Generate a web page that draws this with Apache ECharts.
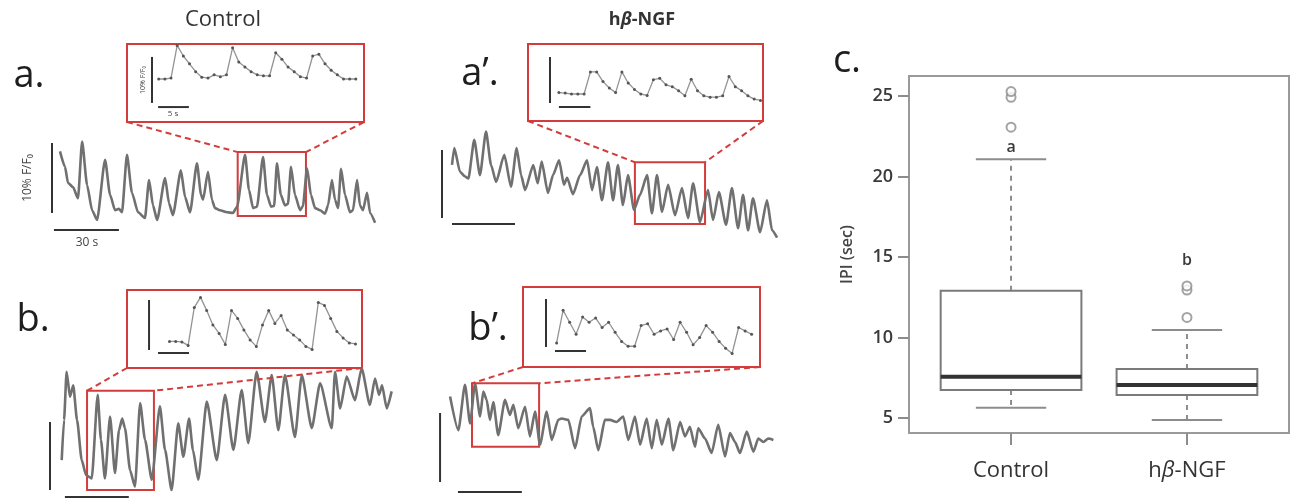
<!DOCTYPE html>
<html><head><meta charset="utf-8">
<script src="https://cdn.jsdelivr.net/npm/echarts@6/dist/echarts.min.js"></script>
<style>html,body{margin:0;padding:0;background:#fff}#c{width:1296px;height:499px}</style>
</head><body><div id="c"></div><script>
// ================= DATA =================
// Box plot (panel c): IPI in seconds
const boxCategories = ['Control', 'hβ-NGF'];
// [lower whisker, Q1, median, Q3, upper whisker]
const boxControl = [5.64, 6.74, 7.57, 12.9, 21.07];
const boxNGF = [4.88, 6.43, 7.05, 8.04, 10.47];
const outliersControl = [23.06, 24.92, 25.27];
const outliersNGF = [11.25, 12.95, 13.2];
const sigLetters = ['a', 'b'];
const sigLetterY = [21.8, 14.8];
const yTicks = [5, 10, 15, 20, 25];

// Main calcium traces: [time (s), ΔF/F0 (%)]
const traceA = [[0,8.8],[2.3,6.6],[3.7,4.3],[6.0,3.7],[8.3,2.1],[10.2,10.2],[12.5,4.0],[14.8,0.4],[17.1,-1.0],[20.8,7.6],[23.1,2.6],[25.4,0.4],[27.2,0.6],[28.6,0.1],[30.9,8.3],[33.2,2.9],[36.0,0.1],[39.2,-0.7],[41.1,4.7],[42.9,1.1],[44.8,-1.0],[48.5,5.0],[50.3,1.4],[52.1,-0.3],[55.8,6.1],[57.7,2.3],[60.0,0.1],[63.2,7.1],[65.1,2.6],[66.0,1.9],[68.3,5.9],[70.1,1.9],[71.5,0.7],[73.8,0.4],[77.1,0.1],[79.8,0],[81.7,0.9],[85.4,8.3],[87.2,3.3],[89.1,0.7],[90.9,0.9],[93.7,8.0],[95.5,2.6],[97.4,0.9],[98.8,1.0],[100.1,7.1],[101.9,2.6],[103.8,1.1],[105.2,1.3],[106.6,6.6],[108.4,2.6],[110.8,0.4],[112.1,1.0],[114.0,6.4],[115.8,2.6],[117.7,0.7],[120.0,0.4],[122.3,-0.1],[123.7,1.1],[125.5,4.7],[126.9,1.9],[128.3,0.7],[129.7,6.3],[131.5,2.6],[133.8,0.1],[135.2,0.4],[137.1,4.7],[138.4,1.1],[139.8,0.4],[141.7,2.9],[143.1,0],[145.4,-1.4]];
const traceA2 = [[0,7.8],[1.1,10.3],[3.8,6.8],[6.2,6.1],[7.8,5.8],[10.6,11.5],[13.3,6.3],[16.2,12.7],[18.6,7.8],[21.0,5.3],[24.9,9.3],[28.1,4.6],[30.8,10.3],[32.9,6.3],[34.8,4.1],[38.7,7.8],[40.8,5.1],[42.7,8.3],[45.7,3.7],[48.1,6.3],[51.0,8.5],[53.3,4.9],[54.8,5.9],[57.6,3.5],[61.0,6.3],[64.3,8.5],[66.7,4.1],[69.0,7.5],[71.4,2.6],[74.3,8.2],[76.7,2.6],[79.0,7.8],[81.4,1.9],[83.8,6.3],[86.7,1.2],[89.5,3.4],[92.9,6.3],[95.2,0.7],[97.6,6.3],[100.0,0.9],[102.9,4.9],[106.2,0.4],[109.5,4.4],[112.4,0],[114.8,5.1],[118.1,-0.6],[121.9,4.1],[124.3,-0.3],[127.1,3.8],[130.5,-1.0],[133.3,4.4],[136.2,-1.5],[138.6,3.4],[141.0,-1.8],[143.3,2.9],[146.7,-2.1],[150.0,2.6],[152.4,-1.8],[154.8,-2.9]];
const traceB = [[0.8,4.4],[1.9,10.3],[3.1,17.4],[4.7,13.7],[6.2,15.4],[8.0,10.3],[10.2,4.4],[12.2,2.2],[14.9,1.7],[17.7,14.0],[19.2,7.4],[21.1,1.7],[23.5,10.8],[25.8,2.5],[27.7,8.8],[29.2,10.5],[30.5,9.1],[32.9,2.9],[35.2,0.5],[37.6,12.8],[39.9,7.4],[43.1,1.5],[46.9,12.3],[49.3,5.9],[52.4,0],[55.5,9.8],[57.9,4.9],[60.6,10.5],[62.4,5.9],[64.9,1.5],[68.9,13.0],[73.6,4.4],[77.5,14.0],[81.4,5.9],[85.3,14.7],[88.4,6.9],[92.3,17.4],[96.2,10.0],[99.4,16.9],[102.5,8.8],[105.6,16.9],[110.3,7.8],[113.5,16.9],[118.2,9.1],[122.1,15.7],[127.6,9.1],[129.1,17.4],[131.5,12.0],[134.6,16.7],[138.5,13.2],[141.6,17.9],[145.5,12.5],[147.9,16.4],[149.8,14.0],[151.2,15.4],[153.4,12.0],[155.7,14.5]];
const traceB2 = [[0.5,12.4],[4.4,7.5],[7.5,14.1],[9.9,8.5],[12.2,14.3],[14.6,9.5],[16.1,13.1],[17.7,11.9],[19.2,9.0],[20.8,11.6],[23.1,6.8],[26.3,11.9],[28.6,9.7],[30.2,11.2],[32.5,7.8],[35.7,10.9],[38.0,6.6],[40.4,10.2],[42.7,5.4],[45.9,10.2],[48.2,6.1],[51.3,9.0],[52.9,9.2],[56.0,9.0],[59.2,4.9],[62.3,9.5],[66.2,10.7],[67.7,8.0],[70.1,4.6],[73.2,9.0],[75.6,9.0],[78.7,8.7],[81.8,9.5],[84.2,6.1],[87.3,9.5],[89.7,5.4],[92.8,9.2],[95.2,4.9],[97.5,9.0],[99.9,5.4],[103.0,9.2],[105.3,4.6],[108.5,8.7],[110.8,6.6],[113.1,8.0],[115.5,5.1],[117.0,7.8],[120.2,6.3],[123.3,4.2],[126.4,8.3],[129.6,3.7],[131.9,7.1],[134.3,5.8],[136.6,4.2],[139.8,7.3],[142.9,4.4],[145.2,6.3],[147.6,5.8],[149.9,6.3],[152.3,6.1]];

// Inset (zoomed) traces: one sample per frame, ΔF/F0 (%)
const insetA = [0,0,0.2,7.3,5.0,3.3,1.6,0.4,0.2,0.9,0.5,0.9,6.8,3.7,2.6,1.6,0.9,0.7,0.7,5.7,4.3,2.6,1.6,0.5,0.2,5.0,5.4,3.3,1.9,0.9,0,0,0];
const insetA2 = [0.3,0.2,0,0,0,4.8,4.8,2.7,1.3,0.3,4.8,2.4,1.0,0,-0.3,3.1,3.4,2.0,1.6,0.7,-0.4,3.2,0.7,-0.4,-0.7,-0.7,-0.4,3.8,1.6,0.7,-0.4,-1.1,-1.4];
const insetB = [0,0,-0.1,-0.8,6.8,8.8,6.2,3.3,1.6,-0.6,6.2,4.6,2.3,0.3,-1.0,3.3,6.2,3.6,5.2,2.3,1.3,0.3,-1.0,-1.6,7.8,7.2,4.6,2.0,0.7,-0.3,-0.5];
const insetB2 = [-0.6,6.2,3.7,1.2,4.8,3.7,4.6,2.6,3.7,1.6,-0.3,-1.3,-1.3,3.0,3.4,1.2,1.9,2.3,0.1,3.7,1.6,-1.0,0.5,3.0,1.6,-0.3,-1.7,-2.8,2.6,1.9,1.2];

// Zoom windows on the main traces: [[t start, %low], [t end, %high]]
const zoomA = [[82, -0.43], [113.5, 8.7]];
const zoomA2 = [[87.1, -0.88], [120.5, 8.2]];
const zoomB = [[12.7, 0], [44.1, 14.6]];
const zoomB2 = [[10.8, 5.1], [42.3, 14.3]];

// ================= LAYOUT =================
const RED = '#d43c3c';
const FONT = "'Open Sans', 'DejaVu Sans', sans-serif";
// rect: [left, top, right, bottom] px; x0/y0 = pixel of (t=0, v=0); sx/sy = px per unit
const panels = [
  {key:'A',  rect:[40,128,385,250], x0:60,  sx:2.167, y0:213, sy:7.0, data:traceA,  zoom:zoomA,  barV:[-3.7,0,10], barH:[-2.8,27.2,-2.43]},
  {key:'A2', rect:[432,125,782,245], x0:452, sx:2.1, y0:218, sy:6.8, data:traceA2, zoom:zoomA2, barV:[-4.76,0,10], barH:[0,30,-0.88]},
  {key:'B',  rect:[40,352,398,499], x0:60,  sx:2.13, y0:490, sy:6.8, data:traceB,  zoom:zoomB,  barV:[-4.7,0,10], barH:[2.3,32.3,-1.03]},
  {key:'B2', rect:[432,370,780,499], x0:449, sx:2.13, y0:482, sy:6.9, data:traceB2, zoom:zoomB2, barV:[-4.2,0,10], barH:[4.2,34.2,-1.45]}
];
const insets = [
  {rect:[127,44,364,122], x0:158.7, sx:6.16, y0:79,   sy:4.6, data:insetA,  barV:[-1.09,-5.2,4.8], barH:[-0.1,4.9,-6.1]},
  {rect:[528,44,763,121], x0:558.9, sx:6.3,  y0:94,   sy:4.6, data:insetA2, barV:[-1.41,-1.96,8.04], barH:[0,5,-2.83]},
  {rect:[127,290,362,368], x0:169.5, sx:6.2, y0:341.4, sy:5.0, data:insetB,  barV:[-3.3,-1.72,8.28], barH:[-1.85,3.15,-2.32]},
  {rect:[523,287,760,367], x0:556.6, sx:6.5, y0:340,  sy:4.8, data:insetB2, barV:[-1.63,-1.46,8.54], barH:[-0.25,4.52,-2.29]}
];

const grids = [], xAxes = [], yAxes = [], series = [];

// ---- Box plot grid (index 0) ----
grids.push({left:909, top:76, width:380, height:357, show:true, borderColor:'#9a9a9a', borderWidth:2, backgroundColor:'transparent'});
xAxes.push({type:'value', gridIndex:0, min:0.42, max:2.58,
  axisLine:{show:false}, splitLine:{show:false},
  axisTick:{show:true, customValues:[1,2], length:12, lineStyle:{color:'#8c8c8c', width:2}},
  axisLabel:{show:true, customValues:[1,2], margin:27, fontSize:22, color:'#333', fontFamily:FONT,
    formatter: v => v === 2 ? 'h{b|β}-NGF' : boxCategories[v-1],
    rich:{b:{fontStyle:'italic', fontSize:22, color:'#333', fontFamily:FONT}}}
});
yAxes.push({type:'value', gridIndex:0, min:4.07, max:26.24,
  name:'IPI (sec)', nameLocation:'middle', nameGap:54, nameRotate:90,
  nameTextStyle:{fontSize:16, color:'#444', fontFamily:FONT, fontWeight:600},
  axisLine:{show:false}, splitLine:{show:false},
  axisTick:{show:true, customValues:yTicks, length:11, lineStyle:{color:'#8c8c8c', width:2}},
  axisLabel:{show:true, customValues:yTicks, margin:16, fontSize:18, color:'#3a3a3a', fontFamily:FONT, fontWeight:600}
});
series.push({
  type:'custom', xAxisIndex:0, yAxisIndex:0, z:3,
  data:[[1].concat(boxControl), [2].concat(boxNGF)],
  encode:{x:0, y:[1,2,3,4,5]},
  renderItem:function(params, api){
    const x = api.value(0), lo = api.value(1), q1 = api.value(2), med = api.value(3), q3 = api.value(4), hi = api.value(5);
    const hw = 0.4, sw = 0.2;
    const P = (a,b) => api.coord([a,b]);
    const gray = '#8c8c8c';
    const ln = (a,b,st) => ({type:'line', shape:{x1:a[0],y1:a[1],x2:b[0],y2:b[1]}, style:st});
    const tl = P(x-hw, q3), br = P(x+hw, q1);
    const lt = P(x, sigLetterY[params.dataIndex]);
    return {type:'group', children:[
      ln(P(x,q3), P(x,hi), {stroke:gray, lineWidth:2, lineDash:[5,5]}),
      ln(P(x,q1), P(x,lo), {stroke:gray, lineWidth:2, lineDash:[5,5]}),
      ln(P(x-sw,hi), P(x+sw,hi), {stroke:gray, lineWidth:2}),
      ln(P(x-sw,lo), P(x+sw,lo), {stroke:gray, lineWidth:2}),
      {type:'rect', shape:{x:tl[0], y:tl[1], width:br[0]-tl[0], height:br[1]-tl[1]}, style:{fill:'#fff', stroke:'#7a7a7a', lineWidth:2}},
      ln(P(x-hw,med), P(x+hw,med), {stroke:'#333', lineWidth:4}),
      {type:'text', x:lt[0], y:lt[1], style:{text:sigLetters[params.dataIndex], fill:'#3a3a3a', font:'600 16px '+FONT, align:'center', verticalAlign:'middle'}}
    ]};
  }
});
series.push({type:'scatter', xAxisIndex:0, yAxisIndex:0, z:4, symbol:'emptyCircle', symbolSize:9,
  itemStyle:{color:'#8c8c8c', borderWidth:1.6},
  data: outliersControl.map(v => [1, v]).concat(outliersNGF.map(v => [2, v]))});

// ---- trace panels ----
function addPanel(L, isInset){
  const idx = grids.length;
  const [l,t,r,b] = L.rect;
  const g = {left:l, top:t, width:r-l, height:b-t};
  if (isInset) Object.assign(g, {show:true, borderColor:RED, borderWidth:2, backgroundColor:'#fff'});
  grids.push(g);
  xAxes.push({type:'value', gridIndex:idx, min:(l-L.x0)/L.sx, max:(r-L.x0)/L.sx, show:false});
  yAxes.push({type:'value', gridIndex:idx, min:(L.y0-b)/L.sy, max:(L.y0-t)/L.sy, show:false});
  const data = isInset ? L.data.map((v,i) => [i, v]) : L.data;
  const s = {type:'line', xAxisIndex:idx, yAxisIndex:idx, data, z: isInset ? 6 : 2, clip:false,
    smooth: isInset ? false : 0.2, smoothMonotone:'x',
    showSymbol: isInset, symbol:'circle', symbolSize: isInset ? 3 : 0,
    itemStyle:{color:'#555'},
    lineStyle:{color: isInset ? '#939393' : '#707070', width: isInset ? 1.3 : 2.6}};
  if (!isInset) s.markArea = {silent:true, itemStyle:{color:'rgba(0,0,0,0)', borderColor:RED, borderWidth:2},
    data:[[{coord:L.zoom[0]}, {coord:L.zoom[1]}]]};
  series.push(s);
  const barStyle = {color:'#333', width: 2};
  series.push({type:'line', xAxisIndex:idx, yAxisIndex:idx, z:5, clip:false, symbol:'none', lineStyle:barStyle,
    data:[[L.barV[0], L.barV[1]], [L.barV[0], L.barV[2]]]});
  series.push({type:'line', xAxisIndex:idx, yAxisIndex:idx, z:5, clip:false, symbol:'none', lineStyle:barStyle,
    data:[[L.barH[0], L.barH[2]], [L.barH[1], L.barH[2]]]});
  return idx;
}
const idxMain = [], idxInset = [];
panels.forEach((p,i) => { idxMain.push(addPanel(p,false)); idxInset.push(addPanel(insets[i], true)); });

// ---- texts ----
const txt = (text, x, y, size, opts) => Object.assign({type:'text', x, y, z:10,
  style:Object.assign({text, fill:'#2a2a2a', font: size + 'px ' + FONT, align:'center', verticalAlign:'middle'}, (opts && opts.style) || {})},
  opts && opts.rotation ? {rotation: opts.rotation} : {});
const baseGraphics = [
  txt('Control', 223, 20, 22, {style:{fill:'#333'}}),
  {type:'text', x:642, y:20, z:10, style:{text:'h{b|β}-NGF', font:'bold 18px '+FONT, fill:'#333', align:'center', verticalAlign:'middle',
    rich:{b:{fontStyle:'italic', fontWeight:'bold', fontSize:18, fontFamily:FONT, fill:'#333'}}}},
  txt('a.', 29, 76, 38, {style:{fill:'#1e1e1e'}}),
  txt('a’.', 480, 74, 38, {style:{fill:'#1e1e1e'}}),
  txt('b.', 33, 320, 38, {style:{fill:'#1e1e1e'}}),
  txt('b’.', 488, 329, 38, {style:{fill:'#1e1e1e'}}),
  txt('c.', 847, 61, 38, {style:{fill:'#1e1e1e'}}),
  txt('10% F/F₀', 28, 178, 12, {rotation:Math.PI/2, style:{fill:'#444'}}),
  txt('30 s', 87, 243, 12, {style:{fill:'#444'}}),
  txt('10% F/F₀', 143, 80, 7, {rotation:Math.PI/2, style:{fill:'#444'}}),
  txt('5 s', 173, 114, 8, {style:{fill:'#444'}})
];

const chart = echarts.init(document.getElementById('c'), null, {renderer:'canvas'});
chart.setOption({animation:false, backgroundColor:'#fff', grid:grids, xAxis:xAxes, yAxis:yAxes, series, graphic:baseGraphics});

// ---- dashed connectors: inset bottom corners -> zoom window top corners ----
const conns = [];
panels.forEach((p,i) => {
  const gi = idxInset[i], gm = idxMain[i];
  const xa = xAxes[gi], ya = yAxes[gi];
  const bl = chart.convertToPixel({gridIndex:gi}, [xa.min, ya.min]);
  const br = chart.convertToPixel({gridIndex:gi}, [xa.max, ya.min]);
  const zl = chart.convertToPixel({gridIndex:gm}, [p.zoom[0][0], p.zoom[1][1]]);
  const zr = chart.convertToPixel({gridIndex:gm}, [p.zoom[1][0], p.zoom[1][1]]);
  [[bl,zl],[br,zr]].forEach(([a,b]) => conns.push({type:'line', z:9,
    shape:{x1:a[0], y1:a[1], x2:b[0], y2:b[1]}, style:{stroke:RED, lineWidth:2, lineDash:[6,4]}}));
});
chart.setOption({graphic: baseGraphics.concat(conns)});
</script></body></html>
